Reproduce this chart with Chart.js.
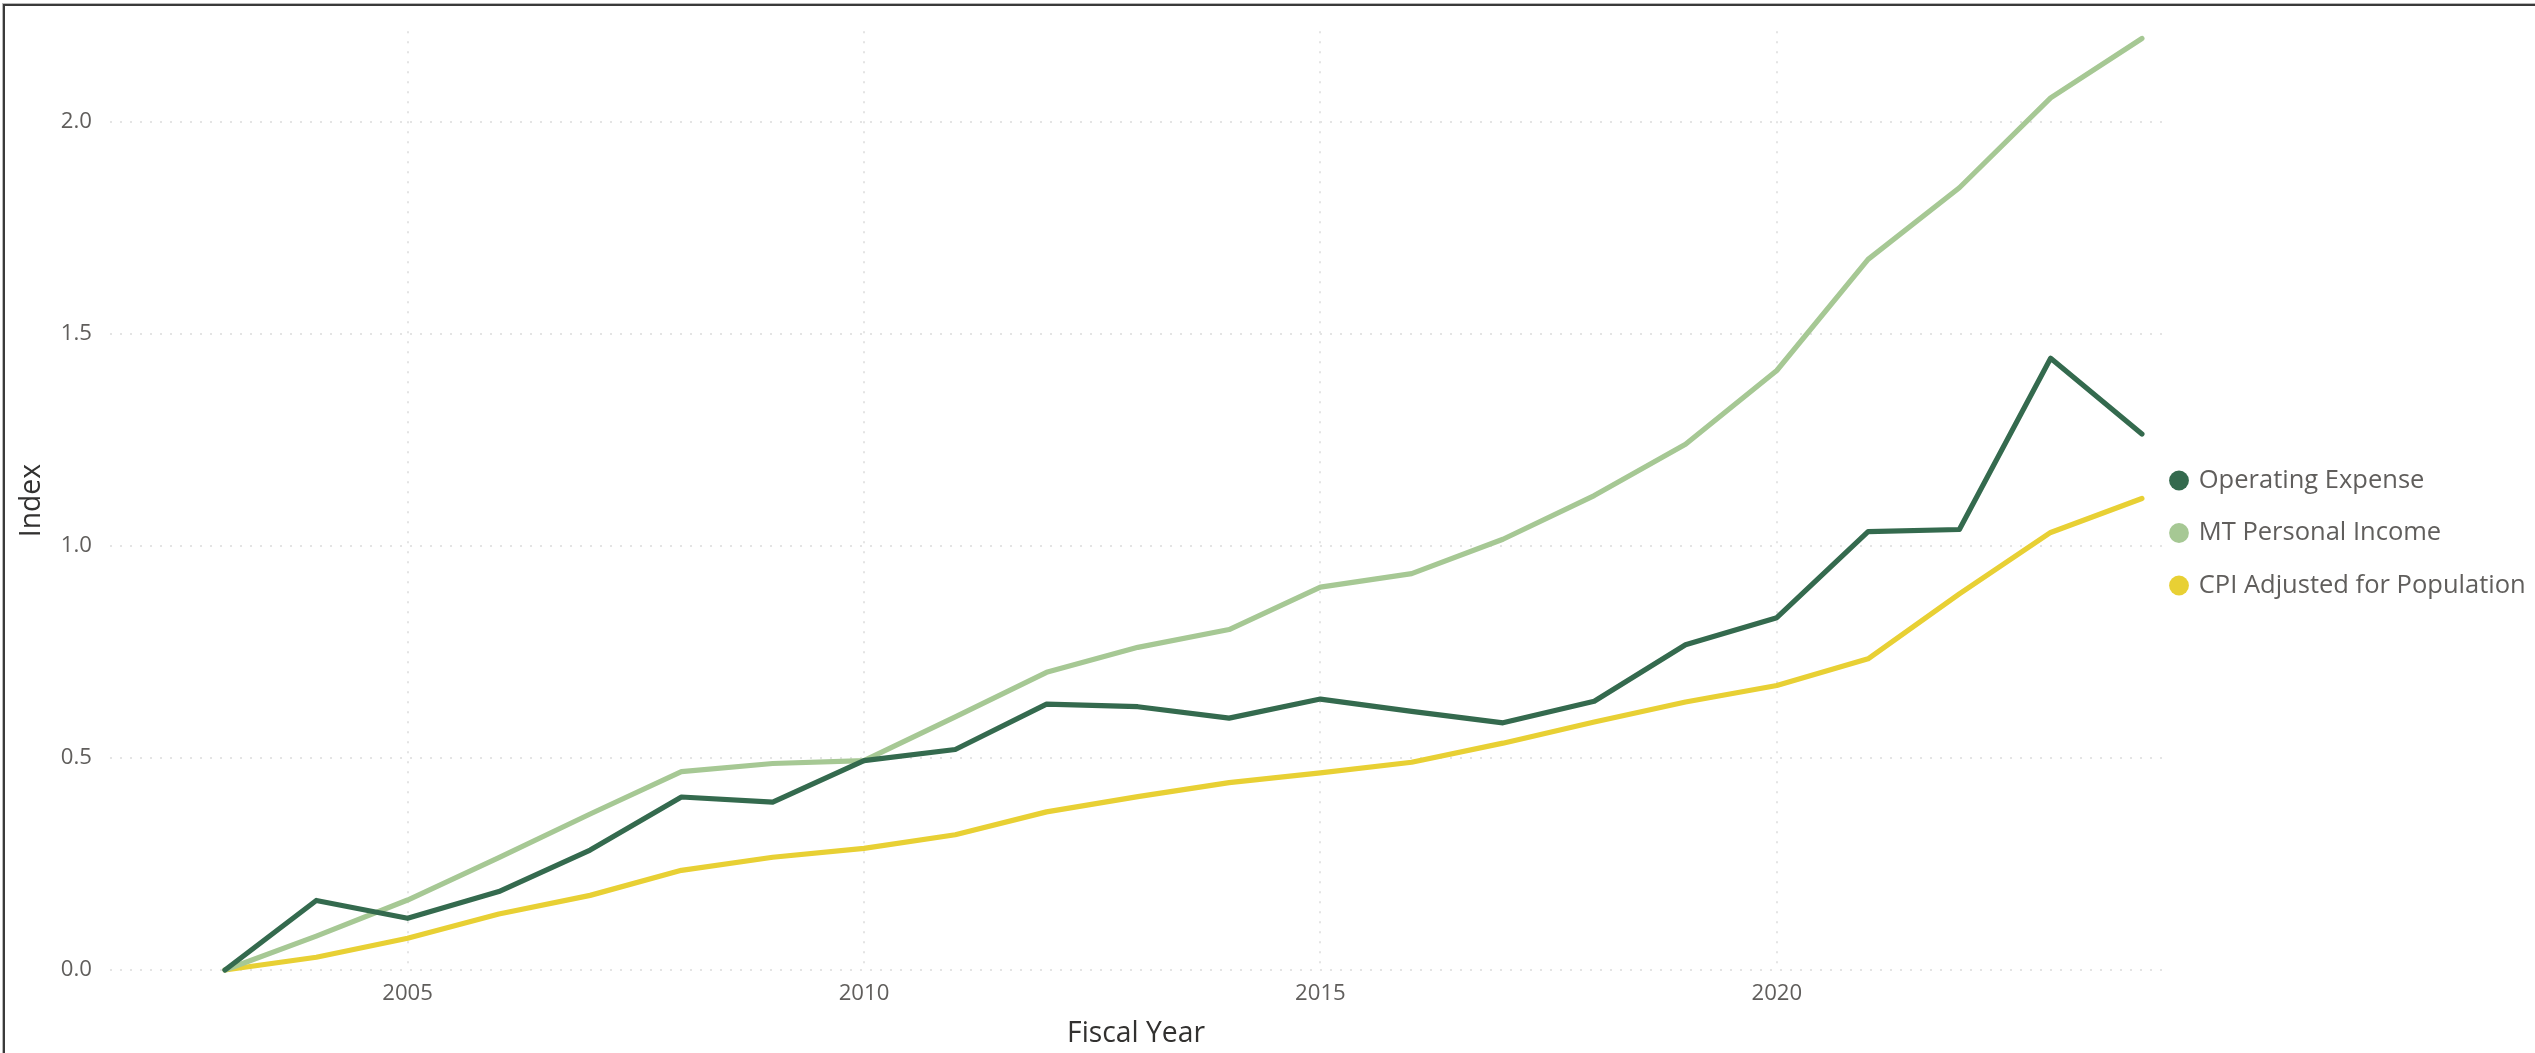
<!DOCTYPE html>
<html><head><meta charset="utf-8">
<script src="https://cdn.jsdelivr.net/npm/chart.js@4.4.1/dist/chart.umd.min.js"></script>
<style>
html,body{margin:0;padding:0;background:#fff;overflow:hidden}
#wrap{position:relative;width:2535px;height:1053px;background:#fff}
#frame{position:absolute;left:3px;top:4px;right:-20px;bottom:-20px;border-left:2px solid #3a3a3a;border-top:2px solid #3a3a3a;box-shadow:-1px -1px 0 #b8b8b8;pointer-events:none}
canvas{position:absolute;left:0;top:0}
</style></head><body>
<div id="wrap"><canvas id="c" width="2535" height="1053"></canvas><div id="frame"></div></div>
<script>
const years = [2003,2004,2005,2006,2007,2008,2009,2010,2011,2012,2013,2014,2015,2016,2017,2018,2019,2020,2021,2022,2023,2024];
const operatingExpense = [0,0.164,0.122,0.185,0.283,0.408,0.396,0.494,0.520,0.627,0.621,0.594,0.639,0.610,0.583,0.634,0.767,0.831,1.034,1.039,1.443,1.264];
const mtPersonalIncome = [0,0.080,0.165,0.265,0.368,0.468,0.487,0.494,0.597,0.702,0.761,0.803,0.903,0.935,1.016,1.119,1.240,1.414,1.676,1.845,2.057,2.197];
const cpiAdjusted = [0,0.030,0.075,0.132,0.176,0.235,0.266,0.287,0.319,0.373,0.409,0.442,0.465,0.490,0.535,0.585,0.632,0.671,0.734,0.887,1.032,1.112];
const seriesNames = ['Operating Expense','MT Personal Income','CPI Adjusted for Population'];
const seriesColors = ['#346A4E','#A6C894','#E8D034'];
const xTickYears = [2005,2010,2015,2020];
const yTickValues = [0,0.5,1.0,1.5,2.0];

const FAMILY = '"Segoe UI", "Open Sans", sans-serif';
const mctx = document.createElement('canvas').getContext('2d');
function sizeFor(text, width, weight) {
  mctx.font = (weight || 'normal') + ' 100px ' + FAMILY;
  return 100 * width / mctx.measureText(text).width;
}
const tickSize = sizeFor('2015', 50.7, 'normal');
const titleSize = sizeFor('Fiscal Year', 138, '500');
const legendSize = sizeFor('CPI Adjusted for Population', 327, 'normal');

Chart.defaults.font.family = FAMILY;

const seriesValues = [operatingExpense, mtPersonalIncome, cpiAdjusted];
const datasets = seriesValues.map((vals, i) => ({
  label: seriesNames[i],
  data: years.map((x, j) => ({x: x, y: vals[j]})),
  borderColor: seriesColors[i],
  backgroundColor: seriesColors[i],
  borderWidth: 5.2,
  pointRadius: 0,
  pointHoverRadius: 0,
  tension: 0,
  fill: false,
  clip: false,
  borderJoinStyle: 'round',
  borderCapStyle: 'round'
}));

const gridOpts = {color: '#E4E4E4', lineWidth: 2, drawTicks: false};
const borderOpts = {display: false, dash: [2, 8]};

new Chart(document.getElementById('c'), {
  type: 'line',
  data: {datasets: datasets},
  options: {
    responsive: false,
    animation: false,
    devicePixelRatio: 1,
    layout: {padding: {top: 30, left: 0, right: 0, bottom: 0}},
    plugins: {
      tooltip: {enabled: false},
      legend: {
        position: 'right',
        align: 'center',
        maxWidth: 373,
        labels: {
          usePointStyle: true,
          pointStyle: 'circle',
          boxWidth: 14,
          boxHeight: 14,
          padding: 10,
          color: '#605E5C',
          font: {family: FAMILY, size: legendSize, lineHeight: 42.5 / legendSize},
          generateLabels(chart) {
            return chart.data.datasets.map((ds, i) => ({
              text: [ds.label],
              fillStyle: ds.borderColor,
              strokeStyle: ds.borderColor,
              lineWidth: 0,
              pointStyle: 'circle',
              hidden: false,
              datasetIndex: i,
              fontColor: '#605E5C'
            }));
          }
        }
      }
    },
    scales: {
      x: {
        type: 'linear',
        min: 2001.74,
        max: 2024.22,
        afterBuildTicks(s) { s.ticks = xTickYears.map(v => ({value: v})); },
        afterFit(s) { s.height = 83; },
        grid: gridOpts,
        border: borderOpts,
        ticks: {padding: 10, color: '#605E5C', font: {size: tickSize}, maxRotation: 0, autoSkip: false, callback: v => String(v)},
        title: {display: true, text: 'Fiscal Year', color: '#323130', font: {size: titleSize, weight: '500'}, padding: {top: 0, bottom: 2}}
      },
      y: {
        min: 0,
        max: 2.214,
        afterBuildTicks(s) { s.ticks = yTickValues.map(v => ({value: v})); },
        afterFit(s) { s.width = 110; },
        grid: gridOpts,
        border: borderOpts,
        ticks: {padding: 18, color: '#605E5C', font: {size: tickSize}, callback: v => Number(v).toFixed(1)},
        title: {display: true, text: 'Index', color: '#323130', font: {size: titleSize, weight: '500'}, padding: {top: 15, bottom: 0}}
      }
    }
  }
});
</script>
</body></html>
